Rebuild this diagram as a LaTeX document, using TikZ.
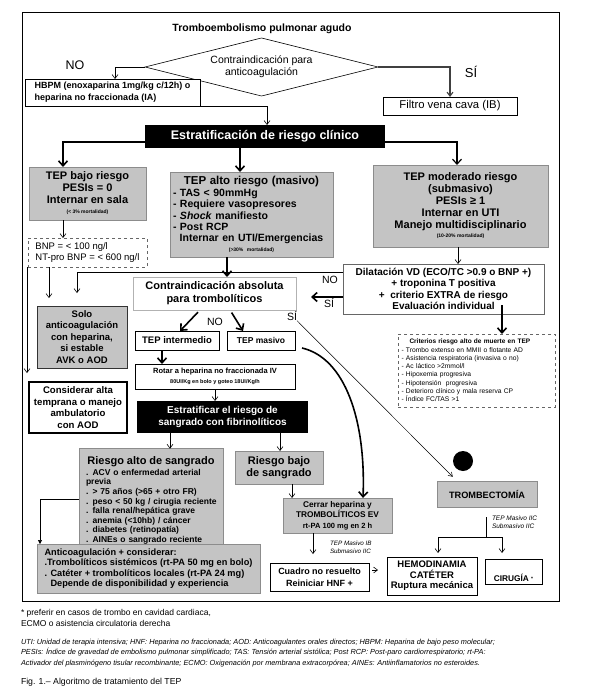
\documentclass[tikz,border=0pt]{standalone}
\usepackage{fontspec}
\setmainfont{Liberation Sans}
\usetikzlibrary{shapes.geometric,arrows.meta,calc}
\newcommand\myfs[2]{\fontsize{#1}{#2}\selectfont}
\definecolor{boxgray}{gray}{0.77}
\definecolor{edgegray}{gray}{0.55}
\begin{document}
\begin{tikzpicture}[x=1pt,y=-1pt,
  every node/.style={inner sep=0pt, outer sep=0pt},
  sz/.style 2 args={minimum width=#1pt, minimum height=#2pt},
  gbox/.style={rectangle, fill=boxgray, draw=edgegray, line width=0.7pt, align=center},
  wbox/.style={rectangle, fill=white, draw=black, line width=0.7pt, align=center},
  bbox/.style={rectangle, fill=black, text=white, align=center},
  dbox/.style={rectangle, draw=black!60, dashed, line width=0.6pt, align=left},
  thk/.style={line width=1.6pt, -{Straight Barb[length=5pt,width=9pt]}},
  thn/.style={line width=0.6pt, -{Straight Barb[length=4pt,width=6pt]}},
  ln/.style={line width=0.6pt},
  lbl/.style={font=\myfs{10.5}{12}}
]
\useasboundingbox (0,0) rectangle (591,698);
\draw[line width=1pt] (22,13) rectangle (559,601);

% ---------- top ----------
\node[font=\myfs{10.5}{12}\bfseries] (title) at (262,29) {Tromboembolismo pulmonar agudo};
\node[diamond, shape aspect=4, draw=black, line width=0.6pt, sz={233}{58}, align=center,
      font=\myfs{10.5}{12}] (dia) at (261.5,67) {Contraindicación para\\anticoagulación};
\node[font=\myfs{12.5}{14}] (no1) at (75,65) {NO};
\node[font=\myfs{13}{15}] (si1) at (471,72) {SÍ};
\node[wbox, sz={175}{27}, font=\myfs{9}{12}\bfseries, align=left] (hbpm) at (112.5,92.5)
  {HBPM (enoxaparina 1mg/kg c/12h) o\\heparina no fraccionada (IA)};
\node[wbox, sz={134}{18}, font=\myfs{11.3}{12}] (filtro) at (450,106) {Filtro vena cava (IB)};
\node[bbox, sz={240}{23}, font=\myfs{12.5}{14}\bfseries] (estr) at (265,136.5) {Estratificación de riesgo clínico};

% ---------- risk boxes ----------
\node[gbox, sz={117}{53}, font=\myfs{11}{12}\bfseries] (bajo) at (87.5,193.5)
  {TEP bajo riesgo\\PESIs = 0\\Internar en sala\\[-2pt]{\myfs{5}{6}(< 3\% mortalidad)}};
\node[dbox, sz={119}{29}, font=\myfs{9.5}{11}] (bnp) at (87.5,252.5)
  {BNP = < 100 ng/l\\NT-pro BNP = < 600 ng/l};
\node[gbox, sz={163}{85}, text width=157pt, font=\myfs{10.5}{11.4}\bfseries] (alto) at (251.5,214.5)
  {{\myfs{11.5}{12}TEP alto riesgo (masivo)}\\
   \makebox[157pt][l]{- TAS < 90mmHg}\\
   \makebox[157pt][l]{- Requiere vasopresores}\\
   \makebox[157pt][l]{- \textit{Shock} manifiesto}\\
   \makebox[157pt][l]{- Post RCP}\\
   Internar en UTI/Emergencias\\[-2pt]
   {\myfs{5}{6}(>30\% mortalidad)}};
\node[gbox, sz={175}{82}, font=\myfs{11}{11.8}\bfseries] (mod) at (460.5,206)
  {TEP moderado riesgo\\(submasivo)\\PESIs ≥ 1\\Internar en UTI\\Manejo multidisciplinario\\[-2pt]{\myfs{5}{6}(10-20\% mortalidad)}};
\node[wbox, draw=black!60, sz={201}{50}, font=\myfs{10}{11.4}\bfseries] (dil) at (443.5,289)
  {Dilatación VD (ECO/TC >0.9 o BNP +)\\+ troponina T positiva\\+\ \ criterio EXTRA de riesgo\\Evaluación individual};
\node[wbox, draw=black!30, sz={163}{33}, font=\myfs{11}{13}\bfseries] (contra) at (214.5,293.5)
  {Contraindicación absoluta\\para trombolíticos};
\node[lbl] (no2) at (330,280) {NO};
\node[lbl] (si2) at (329,303) {SÍ};
\node[lbl] (no3) at (215,322) {NO};
\node[lbl] (si3) at (292,316) {SÍ};

% ---------- left column ----------
\node[gbox, draw=black!80, line width=1pt, sz={90}{62}, font=\myfs{9.5}{11.5}\bfseries] (solo) at (82,337)
  {Solo\\anticoagulación\\con heparina,\\si estable\\AVK o AOD};
\node[wbox, line width=1.2pt, sz={98}{51}, font=\myfs{9.6}{11.5}\bfseries] (cons) at (78,407.5)
  {Considerar alta\\temprana o manejo\\ambulatorio\\con AOD};

% ---------- middle ----------
\node[wbox, sz={84}{19}, font=\myfs{9.5}{11}\bfseries] (inter) at (177,340.5) {TEP intermedio};
\node[wbox, sz={68}{19}, font=\myfs{8.5}{10}\bfseries] (masivo) at (261,340.5) {TEP masivo};
\node[wbox, sz={160}{25}, font=\myfs{7.5}{9.5}\bfseries] (rotar) at (215,376.5)
  {Rotar a heparina no fraccionada IV\\{\myfs{5.5}{7}80UI/Kg en bolo y goteo 18UI/Kg/h}};
\node[bbox, sz={171}{32}, font=\myfs{10}{11.5}\bfseries] (estrat) at (222.5,417)
  {Estratificar el riesgo de\\sangrado con fibrinolíticos};
\node[gbox, sz={144}{93}, text width=130pt, font=\myfs{8.5}{9.6}\bfseries] (ralto) at (151,496.5)
  {\rule{0pt}{16pt}{\myfs{11}{12}Riesgo alto de sangrado}\\[1pt]
   \makebox[130pt][l]{. ACV o enfermedad arterial}\\
   \makebox[130pt][l]{previa}\\
   \makebox[130pt][l]{. > 75 años (>65 + otro FR)}\\
   \makebox[130pt][l]{. peso < 50 kg / cirugia reciente}\\
   \makebox[130pt][l]{. falla renal/hepática grave}\\
   \makebox[130pt][l]{. anemia (<10hb) / cáncer}\\
   \makebox[130pt][l]{. diabetes (retinopatía)}\\
   \makebox[130pt][l]{. AINEs o sangrado reciente}};
\node[gbox, sz={88}{33}, font=\myfs{11}{12}\bfseries] (rbajo) at (279,467.5) {Riesgo bajo\\de sangrado};
\node[gbox, sz={109}{35}, font=\myfs{8.3}{10.5}\bfseries] (cerrar) at (337.5,515.5)
  {Cerrar heparina y\\TROMBOLÍTICOS EV\\{\myfs{7.5}{9}rt-PA 100 mg en 2 h}};
\node[gbox, sz={223}{49}, font=\myfs{9.2}{10.4}\bfseries, align=left] (antic) at (148.5,568.5)
  {Anticoagulación + considerar:\\.Trombolíticos sistémicos (rt-PA 50 mg en bolo)\\. Catéter + trombolíticos locales (rt-PA 24 mg)\\\hspace*{6pt}Depende de disponibilidad y experiencia};
\node[font=\myfs{6.3}{7.5}\itshape, align=left, anchor=west] (lab2) at (330,547) {TEP Masivo IB\\Submasivo IIC};
\node[wbox, sz={99}{28}, font=\myfs{9}{12}\bfseries] (cuadro) at (319.5,577) {Cuadro no resuelto\\Reiniciar HNF +};

% ---------- right ----------
\node[dbox, sz={157}{73}, text width=150pt, font=\myfs{6.7}{8.3}] (crit) at (476.5,370.5)
  {\hspace*{8pt}{\bfseries\myfs{6.5}{8.3}Criterios riesgo alto de muerte en TEP}\\
   - Trombo extenso en MMII o flotante AD\\
   - Asistencia respiratoria (invasiva o no)\\
   - Ac láctico >2mmol/l\\
   - Hipoxemia progresiva\\
   - Hipotensión\ \ progresiva\\
   - Deterioro clínico y mala reserva CP\\
   - Índice FC/TAS >1};
\node[circle, fill=black, minimum size=20pt] (dot) at (463,461) {};
\node[gbox, sz={100}{26}, font=\myfs{9.2}{11}\bfseries] (trombe) at (487,494) {TROMBECTOMÍA};
\node[font=\myfs{6.5}{8}\itshape, align=left, anchor=west] (lab1) at (492,522) {TEP Masivo IIC\\Submasivo IIC};
\node[wbox, sz={90}{38}, font=\myfs{9.5}{10.5}\bfseries] (hemo) at (432,576) {HEMODINAMIA\\CATÉTER\\Ruptura mecánica};
\node[wbox, sz={57}{25}, font=\myfs{8.3}{10}\bfseries] (cir) at (513.5,571.5)
  {\raisebox{-9.5pt}[0pt][0pt]{CIRUGÍA {\myfs{5}{6}\raisebox{1pt}{*}}}};
\coordinate (jn) at (486,537);

% ---------- connectors ----------
\draw[thn] (dia.west) -| (hbpm.north -| 115,0);
\draw[thn, line width=1.1pt, draw=black!75] (dia.east) -| (filtro.north -| 450,0);
\draw[thn] (hbpm.south east) -| (estr.north -| 267,0);
\draw[thk] (estr.west |- 0,142) -| (bajo.north -| 63,0);
\draw[thk] (estr.south -| 240,0) -- (alto.north -| 240,0);
\draw[thk, line width=1.2pt] (estr.east |- 0,142) -| (mod.north -| 457,0);
\draw[thn] (bajo.south -| 63,0) -- (bnp.north -| 63,0);
\draw[thn, shorten >=8pt] (bnp.south -| 49,0) -- (solo.north -| 49,0);
\draw[thn, shorten >=9pt] (bnp.south -| 27,0) -- (cons.north -| 27,0);
\draw[thn, shorten >=13pt] (dil.west |- 0,272) -| (solo.north -| 77,0);
\draw[thk] (alto.south -| 227,0) -- (contra.north -| 227,0);
\draw[thn] (mod.south -| 458,0) -- (dil.north -| 458,0);
\draw[thk, shorten >=15pt] (dil.west |- 0,297) -- (contra.east |- 0,297);
\draw[thk, shorten <=-9pt] (dil.south -| 502,0) -- (crit.north -| 502,0);
\draw[thk, shorten <=3pt] (contra.south -| 200,0) -- (inter.north -| 180,0);
\draw[thk, shorten <=3pt] (contra.south -| 230,0) -- (masivo.north -| 243,0);
\draw[thk] (inter.south -| 162,0) -- (rotar.north -| 162,0);
\draw[thn] (rotar.south -| 215,0) -- (estrat.north -| 215,0);
\draw[thn] (estrat.south -| 170,0) -- (ralto.north -| 170,0);
\draw[thn] (estrat.south -| 280,0) -- (rbajo.north -| 280,0);
\draw[thn] (rbajo.south -| 292,0) -- (cerrar.north -| 292,0);
\draw[thk] ([xshift=7pt,yshift=2pt]masivo.south east) .. controls (345,358) and (366,420) .. (cerrar.north -| 363,0);
\draw[line width=0.5pt, -{Straight Barb[length=4pt,width=5pt]}, shorten >=6pt] (si3.south east) -- (trombe.north -| 457,0);
\draw[thn, shorten >=9pt] (cerrar.south -| 313,0) -- (cuadro.north -| 313,0);
\draw[thn, shorten <=3pt, shorten >=9pt] (cuadro.east |- 0,570) -- (hemo.west |- 0,570);
\draw[ln, shorten <=10pt] (trombe.south -| 486,0) -- (jn);
\draw[thn, shorten >=4pt] (jn) -| (hemo.north -| 438,0);
\draw[thn, shorten >=6pt] (jn) -| (cir.north -| 502,0);
\draw[line width=0.6pt, -{Triangle[length=4pt,width=4pt]}] (ralto.west |- 0,499) -| (antic.north -| 40,0);

% ---------- footnotes ----------
\node[anchor=west, font=\myfs{8.5}{9}] (fn1) at (21,613) {* preferir en casos de trombo en cavidad cardiaca,};
\node[anchor=west, font=\myfs{8.5}{9}] (fn2) at (21,623) {ECMO o asistencia circulatoria derecha};
\node[anchor=west, font=\myfs{7.35}{10.2}\itshape, align=left] (leg) at (21,653)
  {UTI: Unidad de terapia intensiva; HNF: Heparina no fraccionada; AOD: Anticoagulantes orales directos; HBPM: Heparina de bajo peso molecular;\\
   PESIs: Índice de gravedad de embolismo pulmonar simplificado; TAS: Tensión arterial sistólica; Post RCP: Post-paro cardiorrespiratorio; rt-PA:\\
   Activador del plasminógeno tisular recombinante; ECMO: Oxigenación por membrana extracorpórea; AINEs: Antiinflamatorios no esteroides.};
\node[anchor=west, font=\myfs{8.7}{9}] (fig) at (21,682) {Fig. 1.– Algoritmo de tratamiento del TEP};
\end{tikzpicture}
\end{document}
